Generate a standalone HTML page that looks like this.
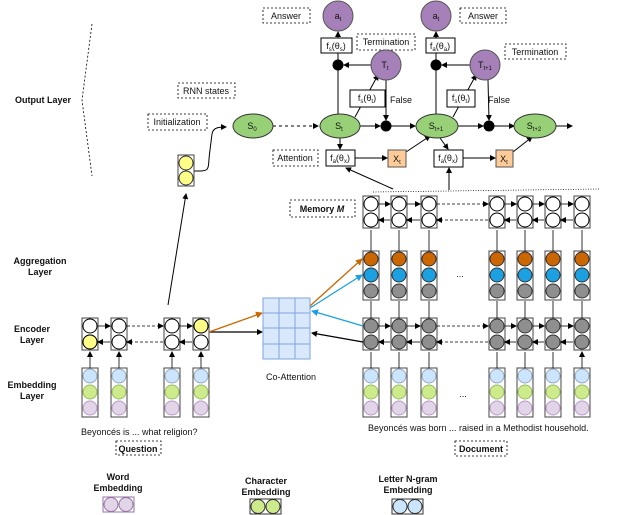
<!DOCTYPE html>
<html><head><meta charset="utf-8"><style>
html,body{margin:0;padding:0;background:#fff}
svg{display:block}
text{font-family:"Liberation Sans",sans-serif;font-size:9px;fill:#111}
.b{font-weight:bold}
</style></head><body>
<svg width="638" height="515" viewBox="0 0 638 515" xmlns="http://www.w3.org/2000/svg">
<defs>
<marker id="a" markerWidth="6" markerHeight="6" refX="5" refY="3" orient="auto" markerUnits="userSpaceOnUse"><path d="M0,0 L6,3 L0,6 z" fill="#000"/></marker>
<marker id="ao" markerWidth="7" markerHeight="7" refX="6" refY="3.5" orient="auto" markerUnits="userSpaceOnUse"><path d="M0,0 L7,3.5 L0,7 z" fill="#cc6600"/></marker>
<marker id="ab" markerWidth="7" markerHeight="7" refX="6" refY="3.5" orient="auto" markerUnits="userSpaceOnUse"><path d="M0,0 L7,3.5 L0,7 z" fill="#1ba1e2"/></marker>
<g id="emb"><rect x="-8" y="0" width="16" height="49" fill="#fff" stroke="#444"/><circle cx="0" cy="8" r="7" fill="#cce5ff" stroke="#9ab"/><circle cx="0" cy="24" r="7" fill="#cdeb8b" stroke="#9b6"/><circle cx="0" cy="40" r="7" fill="#e1d5e7" stroke="#b9c"/></g>
<g id="encw"><rect x="-8" y="0" width="16" height="32" fill="#fff" stroke="#444"/><circle cx="0" cy="8" r="7" fill="#fff" stroke="#000"/><circle cx="0" cy="24" r="7" fill="#fff" stroke="#000"/></g>
<g id="encg"><rect x="-8" y="0" width="16" height="32" fill="#fff" stroke="#444"/><circle cx="0" cy="8" r="7" fill="#8f8f8f" stroke="#333"/><circle cx="0" cy="24" r="7" fill="#8f8f8f" stroke="#333"/></g>
<g id="agg"><rect x="-8" y="0" width="16" height="49" fill="#fff" stroke="#444"/><circle cx="0" cy="8" r="7" fill="#cc6600" stroke="#333"/><circle cx="0" cy="24" r="7" fill="#1ba1e2" stroke="#333"/><circle cx="0" cy="40" r="7" fill="#8f8f8f" stroke="#333"/></g>
</defs>

<path d="M92,24 L82,100 L92,176" fill="none" stroke="#000" stroke-dasharray="2,2" stroke-width="0.8"/>
<text x="15" y="103" class="b">Output Layer</text>
<text x="40" y="264" class="b" text-anchor="middle">Aggregation</text>
<text x="40" y="275" class="b" text-anchor="middle">Layer</text>
<text x="32" y="332" class="b" text-anchor="middle">Encoder</text>
<text x="32" y="343" class="b" text-anchor="middle">Layer</text>
<text x="32" y="388" class="b" text-anchor="middle">Embedding</text>
<text x="32" y="399" class="b" text-anchor="middle">Layer</text>

<g fill="#fff" stroke="#000" stroke-dasharray="2,2" stroke-width="0.8">
<rect x="178" y="83" width="57" height="15"/>
<rect x="148" y="114" width="59" height="16"/>
<rect x="263" y="8" width="47" height="15"/>
<rect x="357" y="34" width="58" height="16"/>
<rect x="460" y="8" width="46" height="15"/>
<rect x="505" y="44" width="61" height="15"/>
<rect x="273" y="150" width="45" height="16"/>
<rect x="290" y="200" width="65" height="17"/>
<rect x="116" y="441" width="45" height="14"/>
<rect x="455" y="441" width="52" height="15"/>
</g>
<text x="206" y="94" text-anchor="middle">RNN states</text>
<text x="177" y="125" text-anchor="middle">Initialization</text>
<text x="286" y="19" text-anchor="middle">Answer</text>
<text x="386" y="45" text-anchor="middle">Termination</text>
<text x="483" y="19" text-anchor="middle">Answer</text>
<text x="535" y="55" text-anchor="middle">Termination</text>
<text x="295" y="161" text-anchor="middle">Attention</text>
<text x="322" y="212" text-anchor="middle" class="b">Memory <tspan font-style="italic">M</tspan></text>
<text x="138" y="452" text-anchor="middle" class="b">Question</text>
<text x="481" y="452" text-anchor="middle" class="b">Document</text>

<g stroke="#000" stroke-width="1" fill="none">
<path d="M194,171 C212,171 207,171 210,150 L212,134 C213,127 220,127 226,127" marker-end="url(#a)"/>
<path d="M273,126 L318,126" stroke-dasharray="3,3" marker-end="url(#a)"/>
<path d="M360,126 L380,126" marker-end="url(#a)"/>
<path d="M391,126 L415,126" marker-end="url(#a)"/>
<path d="M458,126 L483,126" marker-end="url(#a)"/>
<path d="M494,126 L514,126" marker-end="url(#a)"/>
<path d="M556,126 L572,126" marker-end="url(#a)"/>
<path d="M338,114 L338,70"/>
<path d="M436,114 L436,70"/>
<path d="M338,60 L338,53"/><path d="M338,38 L338,32" marker-end="url(#a)"/>
<path d="M436,60 L436,53"/><path d="M436,38 L436,32" marker-end="url(#a)"/>
<path d="M371,65 L344,65" marker-end="url(#a)"/>
<path d="M470,65 L442,65" marker-end="url(#a)"/>
<path d="M386,80 L386,120" marker-end="url(#a)"/>
<path d="M488,80 L489,120" marker-end="url(#a)"/>
<path d="M355,117 L378,75" marker-end="url(#a)"/>
<path d="M453,117 L476,75" marker-end="url(#a)"/>
<path d="M340,138 L340,149" marker-end="url(#a)"/>
<path d="M440,138 L448,149" marker-end="url(#a)"/>
<path d="M355,158 L387,158" marker-end="url(#a)"/>
<path d="M463,158 L495,158" marker-end="url(#a)"/>
<path d="M406,152 L430,136" marker-end="url(#a)"/>
<path d="M513,152 L532,137" marker-end="url(#a)"/>
<path d="M393,189 L346,168" marker-end="url(#a)"/>
<path d="M449,190 L449,168" marker-end="url(#a)"/>
<path d="M373,192 L600,189" stroke-dasharray="1,1.5" stroke-width="0.7"/>
</g>
<g stroke="#000" fill="#000"><circle cx="338" cy="65" r="5"/><circle cx="436" cy="65" r="5"/><circle cx="386" cy="126" r="5"/><circle cx="489" cy="126" r="5"/></g>
<g fill="#a680b8" stroke="#555"><circle cx="338" cy="16" r="15"/><circle cx="436" cy="16" r="15"/><circle cx="386" cy="65" r="15"/><circle cx="485" cy="65" r="15"/></g>
<text x="338" y="19" text-anchor="middle">a<tspan font-size="6" dy="2">t</tspan></text>
<text x="436" y="19" text-anchor="middle">a<tspan font-size="6" dy="2">t</tspan></text>
<text x="385" y="68" text-anchor="middle">T<tspan font-size="6" dy="2">t</tspan></text>
<text x="485" y="68" text-anchor="middle">T<tspan font-size="6" dy="2">t+1</tspan></text>
<g fill="#97d077" stroke="#333"><ellipse cx="253" cy="126" rx="20" ry="12"/><ellipse cx="340" cy="126" rx="20" ry="12"/><ellipse cx="437" cy="126" rx="21" ry="12"/><ellipse cx="535" cy="126" rx="21" ry="12"/></g>
<text x="252" y="129" text-anchor="middle">S<tspan font-size="6" dy="2">0</tspan></text>
<text x="339" y="129" text-anchor="middle">S<tspan font-size="6" dy="2">t</tspan></text>
<text x="436" y="129" text-anchor="middle">S<tspan font-size="6" dy="2">t+1</tspan></text>
<text x="534" y="129" text-anchor="middle">S<tspan font-size="6" dy="2">t+2</tspan></text>
<g fill="#fff" stroke="#000"><rect x="321" y="38" width="31" height="15"/><rect x="426" y="38" width="29" height="15"/><rect x="350" y="90" width="35" height="17"/><rect x="447" y="90" width="28" height="17"/><rect x="326" y="150" width="29" height="16"/><rect x="434" y="150" width="29" height="17"/></g>
<text x="336" y="49" text-anchor="middle">f<tspan font-size="6" dy="2">s</tspan><tspan dy="-2">(θ</tspan><tspan font-size="6" dy="2">s</tspan><tspan dy="-2">)</tspan></text>
<text x="440" y="49" text-anchor="middle">f<tspan font-size="6" dy="2">a</tspan><tspan dy="-2">(θ</tspan><tspan font-size="6" dy="2">a</tspan><tspan dy="-2">)</tspan></text>
<text x="367" y="101" text-anchor="middle">f<tspan font-size="6" dy="2">s</tspan><tspan dy="-2">(θ</tspan><tspan font-size="6" dy="2">t</tspan><tspan dy="-2">)</tspan></text>
<text x="461" y="101" text-anchor="middle">f<tspan font-size="6" dy="2">s</tspan><tspan dy="-2">(θ</tspan><tspan font-size="6" dy="2">t</tspan><tspan dy="-2">)</tspan></text>
<text x="340" y="161" text-anchor="middle">f<tspan font-size="6" dy="2">a</tspan><tspan dy="-2">(θ</tspan><tspan font-size="6" dy="2">x</tspan><tspan dy="-2">)</tspan></text>
<text x="448" y="161" text-anchor="middle">f<tspan font-size="6" dy="2">a</tspan><tspan dy="-2">(θ</tspan><tspan font-size="6" dy="2">x</tspan><tspan dy="-2">)</tspan></text>
<text x="390" y="103">False</text>
<text x="488" y="103">False</text>
<g fill="#ffcc99" stroke="#555"><rect x="388" y="150" width="18" height="17"/><rect x="496" y="150" width="17" height="17"/></g>
<text x="397" y="162" text-anchor="middle">X<tspan font-size="6" dy="2">t</tspan></text>
<text x="504" y="162" text-anchor="middle">X<tspan font-size="6" dy="2">t</tspan></text>

<rect x="178" y="155" width="16" height="31" fill="#fff" stroke="#444"/>
<circle cx="186" cy="163" r="7" fill="#ffff88" stroke="#333"/><circle cx="186" cy="178" r="7" fill="#ffff88" stroke="#333"/>
<path d="M168,305 L186,194" stroke="#000" fill="none" marker-end="url(#a)"/>

<use href="#emb" x="90" y="368"/><use href="#emb" x="119" y="368"/><use href="#emb" x="172" y="368"/><use href="#emb" x="201" y="368"/>
<use href="#encw" x="90" y="318"/><use href="#encw" x="119" y="318"/><use href="#encw" x="172" y="318"/><use href="#encw" x="201" y="318"/>
<circle cx="90" cy="342" r="7" fill="#ffff88" stroke="#000"/><circle cx="201" cy="326" r="7" fill="#ffff88" stroke="#000"/>
<g stroke="#000" fill="none" stroke-width="0.8">
<path d="M90,368 L90,352" marker-end="url(#a)"/><path d="M119,368 L119,352" marker-end="url(#a)"/><path d="M172,368 L172,352" marker-end="url(#a)"/><path d="M201,368 L201,352" marker-end="url(#a)"/>
<path d="M98,326 L110,326" marker-end="url(#a)"/><path d="M110,342 L98,342" marker-end="url(#a)"/>
<path d="M180,326 L192,326" marker-end="url(#a)"/><path d="M192,342 L180,342" marker-end="url(#a)"/>
<path d="M127,326 L163,326" stroke-dasharray="3,2" marker-end="url(#a)"/><path d="M163,342 L127,342" stroke-dasharray="3,2" marker-end="url(#a)"/>
</g>
<path d="M209,332 L262,332" stroke="#000" stroke-width="1.3" marker-end="url(#a)"/>
<path d="M209,332 L262,313" stroke="#cc6600" stroke-width="1.3" marker-end="url(#ao)"/>
<text x="81" y="435">Beyoncés is  ...  what religion?</text>

<g fill="#dae8fc" stroke="#7ea6e0"><rect x="263" y="298" width="47" height="61"/></g>
<g stroke="#7ea6e0" fill="none"><path d="M279,298 V359 M295,298 V359 M263,313 H310 M263,328 H310 M263,344 H310"/></g>
<text x="291" y="380" text-anchor="middle">Co-Attention</text>

<g>
<use href="#emb" x="371" y="368"/><use href="#emb" x="399" y="368"/><use href="#emb" x="429" y="368"/><use href="#emb" x="497" y="368"/><use href="#emb" x="525" y="368"/><use href="#emb" x="553" y="368"/><use href="#emb" x="582" y="368"/>
<use href="#encg" x="371" y="318"/><use href="#encg" x="399" y="318"/><use href="#encg" x="429" y="318"/><use href="#encg" x="497" y="318"/><use href="#encg" x="525" y="318"/><use href="#encg" x="553" y="318"/><use href="#encg" x="582" y="318"/>
<use href="#agg" x="371" y="251"/><use href="#agg" x="399" y="251"/><use href="#agg" x="429" y="251"/><use href="#agg" x="497" y="251"/><use href="#agg" x="525" y="251"/><use href="#agg" x="553" y="251"/><use href="#agg" x="582" y="251"/>
<use href="#encw" x="371" y="196"/><use href="#encw" x="399" y="196"/><use href="#encw" x="429" y="196"/><use href="#encw" x="497" y="196"/><use href="#encw" x="525" y="196"/><use href="#encw" x="553" y="196"/><use href="#encw" x="582" y="196"/>
</g>
<g stroke="#000" fill="none" stroke-width="0.8">
<path d="M371,368V352M399,368V352M429,368V352M497,368V352M525,368V352M553,368V352M582,368V352" marker-end="url(#a)"/>
<path d="M371,318V301M399,318V301M429,318V301M497,318V301M525,318V301M553,318V301M582,318V301"/>
<path d="M371,251V230M399,251V230M429,251V230M497,251V230M525,251V230M553,251V230M582,251V230"/>
</g>
<g stroke="#000" fill="none" stroke-width="0.8" marker-end="url(#a)">
<path d="M379,326H390"/><path d="M407,326H420"/><path d="M505,326H516"/><path d="M533,326H544"/><path d="M561,326H573"/>
<path d="M390,342H379"/><path d="M420,342H407"/><path d="M516,342H505"/><path d="M544,342H533"/><path d="M573,342H561"/>
<path d="M379,204H390"/><path d="M407,204H420"/><path d="M505,204H516"/><path d="M533,204H544"/><path d="M561,204H573"/>
<path d="M390,220H379"/><path d="M420,220H407"/><path d="M516,220H505"/><path d="M544,220H533"/><path d="M573,220H561"/>
<path d="M437,326H488" stroke-dasharray="3,2"/><path d="M488,342H437" stroke-dasharray="3,2"/><path d="M437,204H488" stroke-dasharray="3,2"/><path d="M488,220H437" stroke-dasharray="3,2"/>
</g>
<text x="460" y="277" text-anchor="middle">...</text>
<text x="463" y="397" text-anchor="middle">...</text>
<path d="M363,342 L312,333" stroke="#000" stroke-width="1.3" marker-end="url(#a)"/>
<path d="M363,326 L312,311" stroke="#1ba1e2" stroke-width="1.3" marker-end="url(#ab)"/>
<path d="M310,308 L362,275" stroke="#1ba1e2" stroke-width="1.3" marker-end="url(#ab)"/>
<path d="M310,306 L362,259" stroke="#cc6600" stroke-width="1.3" marker-end="url(#ao)"/>
<text x="368" y="431">Beyoncés  was born ... raised in a Methodist household.</text>

<text x="118" y="480" class="b" text-anchor="middle">Word</text>
<text x="118" y="491" class="b" text-anchor="middle">Embedding</text>
<rect x="103" y="497" width="31" height="15" fill="#fff" stroke="#9673a6"/>
<circle cx="111" cy="504.5" r="7" fill="#e1d5e7" stroke="#9673a6"/><circle cx="126" cy="504.5" r="7" fill="#e1d5e7" stroke="#9673a6"/>
<text x="266" y="484" class="b" text-anchor="middle">Character</text>
<text x="266" y="495" class="b" text-anchor="middle">Embedding</text>
<rect x="250" y="499" width="31" height="15" fill="#fff" stroke="#333"/>
<circle cx="258" cy="506.5" r="7" fill="#cdeb8b" stroke="#333"/><circle cx="273" cy="506.5" r="7" fill="#cdeb8b" stroke="#333"/>
<text x="408" y="482" class="b" text-anchor="middle">Letter N-gram</text>
<text x="408" y="493" class="b" text-anchor="middle">Embedding</text>
<rect x="392" y="499" width="31" height="15" fill="#fff" stroke="#333"/>
<circle cx="400" cy="506.5" r="7" fill="#cce5ff" stroke="#333"/><circle cx="415" cy="506.5" r="7" fill="#cce5ff" stroke="#333"/>
</svg>
</body></html>
